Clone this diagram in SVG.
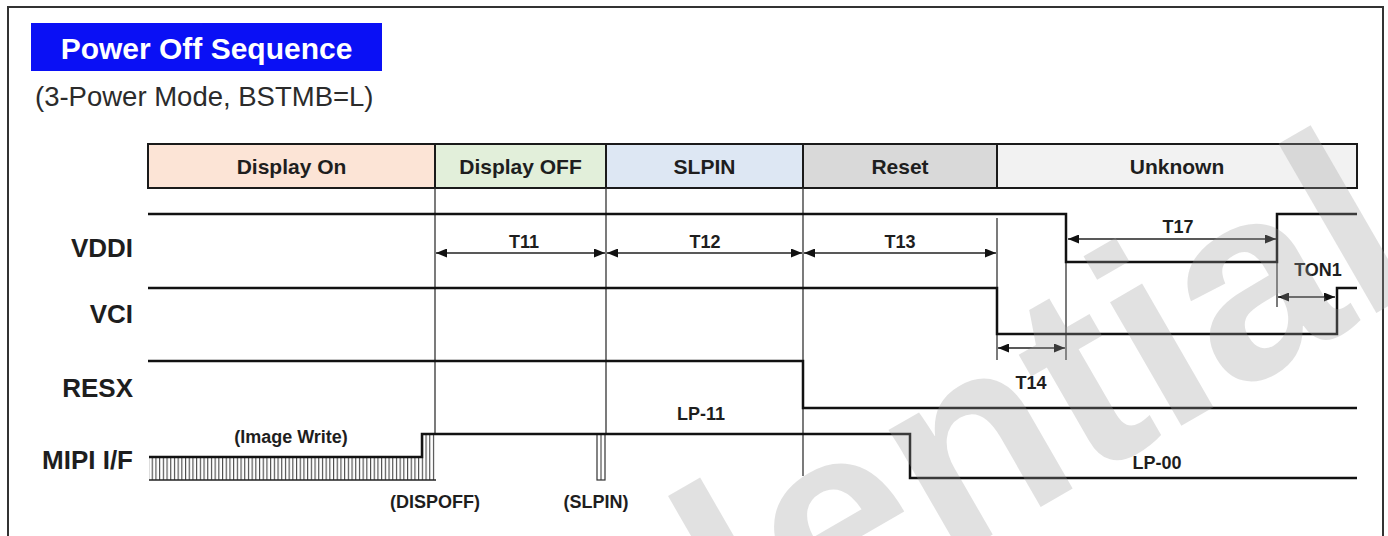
<svg xmlns="http://www.w3.org/2000/svg" width="1388" height="536" viewBox="0 0 1388 536">
  <defs>
    <style>
      .lbl { font-family: "Liberation Sans", Arial, sans-serif; font-weight: bold; fill: #1e1e1e; }
      .hdr { font-size: 21px; text-anchor: middle; }
      .sig { font-size: 26px; text-anchor: end; }
      .tm { font-size: 18px; text-anchor: middle; }
      .cell { stroke: #1a1a1a; stroke-width: 2; }
      .wave { fill: none; stroke: #111; stroke-width: 2.5; stroke-linejoin: miter; }
      .guide { fill: none; stroke: #333; stroke-width: 1.3; }
      .dim { fill: none; stroke: #222; stroke-width: 1.4; marker-start: url(#tip); marker-end: url(#tip); }
    </style>
    <marker id="tip" viewBox="0 0 11 9" refX="11" refY="4.5" markerWidth="11" markerHeight="9" markerUnits="userSpaceOnUse" orient="auto-start-reverse">
      <path d="M0,0 L11,4.5 L0,9 z" fill="#111"/>
    </marker>
    <pattern id="hatch" width="3.7" height="10" patternUnits="userSpaceOnUse">
      <rect width="3.7" height="10" fill="#fff"/>
      <line x1="0.6" y1="0" x2="0.6" y2="10" stroke="#333" stroke-width="1"/>
    </pattern>
  </defs>

  <rect width="1388" height="536" fill="#fff"/>

  <!-- outer frame -->
  <path id="frame" d="M8,540 V7 H1383 V540" fill="none" stroke="#333" stroke-width="2"/>

  <!-- title -->
  <g id="title">
    <rect x="31" y="23" width="351" height="48" fill="#0a10f5"/>
    <text x="206.5" y="59" font-family="Liberation Sans, Arial, sans-serif" font-weight="bold" font-size="30" fill="#fff" text-anchor="middle">Power Off Sequence</text>
    <text x="35" y="106" font-family="Liberation Sans, Arial, sans-serif" font-size="27.5" fill="#2b2b2b">(3-Power Mode, BSTMB=L)</text>
  </g>

  <!-- state bar -->
  <g id="state-display-on">
    <rect class="cell" x="148" y="144" width="287" height="44" fill="#fce4d6"/>
    <text class="lbl hdr" x="291.5" y="174">Display On</text>
  </g>
  <g id="state-display-off">
    <rect class="cell" x="435" y="144" width="171" height="44" fill="#e2efda"/>
    <text class="lbl hdr" x="520.5" y="174">Display OFF</text>
  </g>
  <g id="state-slpin">
    <rect class="cell" x="606" y="144" width="197" height="44" fill="#dde7f3"/>
    <text class="lbl hdr" x="704.5" y="174">SLPIN</text>
  </g>
  <g id="state-reset">
    <rect class="cell" x="803" y="144" width="194" height="44" fill="#d9d9d9"/>
    <text class="lbl hdr" x="900" y="174">Reset</text>
  </g>
  <g id="state-unknown">
    <rect class="cell" x="997" y="144" width="360" height="44" fill="#f2f2f2"/>
    <text class="lbl hdr" x="1177" y="174">Unknown</text>
  </g>

  <!-- signal names -->
  <g id="sig-vddi"><text class="lbl sig" x="133" y="257">VDDI</text></g>
  <g id="sig-vci"><text class="lbl sig" x="133" y="323">VCI</text></g>
  <g id="sig-resx"><text class="lbl sig" x="133" y="397">RESX</text></g>
  <g id="sig-mipi"><text class="lbl sig" x="133" y="469">MIPI I/F</text></g>

  <!-- timing guide lines -->
  <g id="guides">
    <line class="guide" x1="435" y1="188" x2="435" y2="480"/>
    <line class="guide" x1="606" y1="188" x2="606" y2="434"/>
    <line class="guide" x1="803" y1="188" x2="803" y2="476"/>
    <line class="guide" x1="997" y1="218" x2="997" y2="360"/>
    <line class="guide" x1="1066" y1="262" x2="1066" y2="360"/>
    <line class="guide" x1="1277" y1="262" x2="1277" y2="307"/>
  </g>

  <!-- waveforms -->
  <g id="waves">
    <path id="wave-vddi" class="wave" d="M148,214 H1066 V262 H1277 V214 H1357"/>
    <path id="wave-vci" class="wave" d="M148,288 H997 V334 H1337 V288 H1357"/>
    <path id="wave-resx" class="wave" d="M148,361 H803 V408 H1357"/>
    <g id="wave-mipi">
      <rect x="149" y="457" width="273" height="23" fill="url(#hatch)"/>
      <rect x="422" y="434" width="14" height="46" fill="url(#hatch)"/>
      <path d="M149,480 H436" fill="none" stroke="#222" stroke-width="1.5"/>
      <rect x="597" y="434" width="8" height="46" fill="#fff" stroke="#333" stroke-width="1.2"/>
      <line x1="601" y1="434" x2="601" y2="480" stroke="#333" stroke-width="1"/>
      <path class="wave" d="M149,457 H422 V434 H910 V478 H1357"/>
    </g>
  </g>

  <!-- timing intervals -->
  <g id="connectors">
    <line class="dim" x1="436" y1="253" x2="605" y2="253"/>
    <line class="dim" x1="607" y1="253" x2="802" y2="253"/>
    <line class="dim" x1="804" y1="253" x2="996" y2="253"/>
    <line class="dim" x1="998" y1="348" x2="1065" y2="348"/>
    <line class="dim" x1="1068" y1="239" x2="1276" y2="239"/>
    <line class="dim" x1="1278" y1="297" x2="1335" y2="297"/>
  </g>

  <!-- interval and state labels -->
  <g id="labels">
    <text class="lbl tm" x="524" y="248">T11</text>
    <text class="lbl tm" x="705" y="248">T12</text>
    <text class="lbl tm" x="900" y="248">T13</text>
    <text class="lbl tm" x="1178" y="233">T17</text>
    <text class="lbl tm" x="1031" y="389">T14</text>
    <text class="lbl tm" x="1318" y="276" font-size="17">TON1</text>
    <text class="lbl tm" x="701" y="420">LP-11</text>
    <text class="lbl tm" x="1157" y="469">LP-00</text>
    <text class="lbl tm" x="291" y="443" font-size="16" fill="#444">(Image Write)</text>
    <text class="lbl tm" x="435" y="508">(DISPOFF)</text>
    <text class="lbl tm" x="596" y="508">(SLPIN)</text>
  </g>

  <!-- watermark -->
  <text id="watermark" transform="translate(1425,285) rotate(-30)" font-family="Liberation Sans, Arial, sans-serif" font-weight="bold" font-size="270" fill="#9a9a9a" fill-opacity="0.3" text-anchor="end">Confidential</text>
</svg>
